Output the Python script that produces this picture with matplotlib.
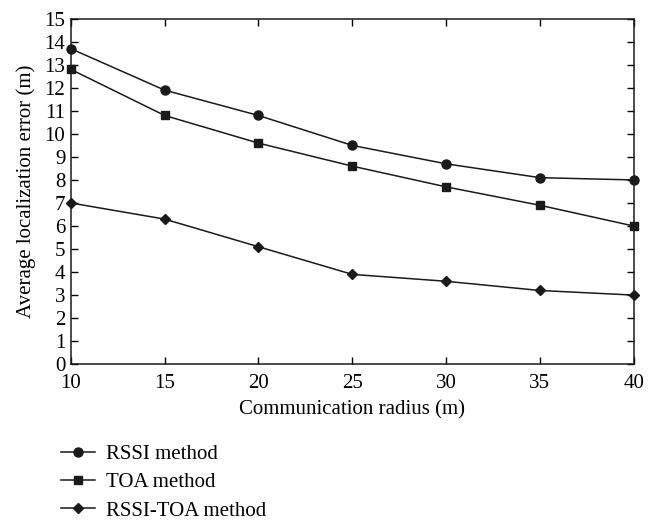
import matplotlib
matplotlib.use("Agg")
import matplotlib.pyplot as plt
from matplotlib.lines import Line2D

plt.rcParams['font.family'] = ['Liberation Serif', 'DejaVu Serif']

radius = [10, 15, 20, 25, 30, 35, 40]
rssi = [13.7, 11.9, 10.8, 9.5, 8.7, 8.1, 8.0]
toa = [12.8, 10.8, 9.6, 8.6, 7.7, 6.9, 6.0]
rssi_toa = [7.0, 6.3, 5.1, 3.9, 3.6, 3.2, 3.0]

fig = plt.figure(figsize=(6.56, 5.21), dpi=100)
ax = fig.add_axes([0.108, 0.301, 0.858, 0.663])

ax.plot(radius, rssi, color='#1a1a1a', lw=1.1, marker='o', ms=6.5, clip_on=False, zorder=3)
ax.plot(radius, toa, color='#1a1a1a', lw=1.1, marker='s', ms=5.5, clip_on=False, zorder=3)
ax.plot(radius, rssi_toa, color='#1a1a1a', lw=1.1, marker='D', ms=5, clip_on=False, zorder=3)

ax.set_xlim(10, 40)
ax.set_ylim(0, 15)
ax.set_xticks(radius)
ax.set_yticks(range(0, 16))
ax.tick_params(direction='in', top=True, right=True, labelsize=15, length=5, width=1)
ax.tick_params(axis='x', pad=7)
ax.tick_params(axis='y', pad=4)
for s in ax.spines.values():
    s.set_linewidth(1.1)
    s.set_color('#1a1a1a')
ax.set_xlabel('Communication radius (m)', fontsize=15, labelpad=5)
ax.set_ylabel('Average localization error (m)', fontsize=15, labelpad=6)

handles = [
    Line2D([], [], color='#1a1a1a', lw=1.1, marker='o', ms=6.5),
    Line2D([], [], color='#1a1a1a', lw=1.1, marker='s', ms=5.5),
    Line2D([], [], color='#1a1a1a', lw=1.1, marker='D', ms=5),
]
fig.legend(handles, ['RSSI method', 'TOA method', 'RSSI-TOA method'],
           loc='upper left', bbox_to_anchor=(0.093, 0.147), frameon=False,
           fontsize=15, handlelength=1.65, handletextpad=0.5, labelspacing=0.42,
           borderaxespad=0, borderpad=0)

fig.savefig('out.png', dpi=100)
